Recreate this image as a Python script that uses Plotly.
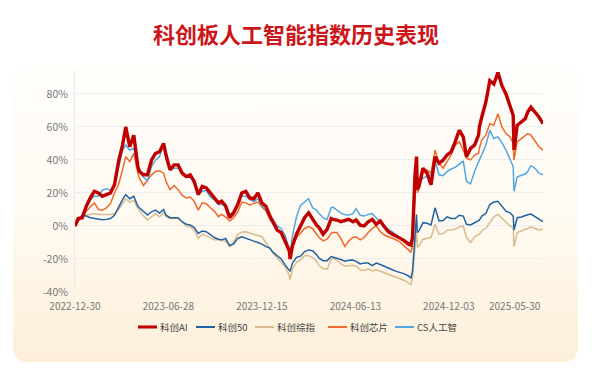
import base64
import plotly.graph_objects as go

# ---------------- data (cumulative return, %) ----------------
dates = [
    "2022-12-30", "2023-01-06", "2023-01-13", "2023-01-20", "2023-02-03", "2023-02-10", "2023-02-17", "2023-02-24",
    "2023-03-03", "2023-03-10", "2023-03-17", "2023-03-24", "2023-03-31", "2023-04-07", "2023-04-14", "2023-04-21",
    "2023-04-28", "2023-05-05", "2023-05-12", "2023-05-19", "2023-05-26", "2023-06-02", "2023-06-09", "2023-06-16",
    "2023-06-21", "2023-06-30", "2023-07-07", "2023-07-14", "2023-07-21", "2023-07-28", "2023-08-04", "2023-08-11",
    "2023-08-18", "2023-08-25", "2023-09-01", "2023-09-08", "2023-09-15", "2023-09-22", "2023-09-28", "2023-10-13",
    "2023-10-20", "2023-10-27", "2023-11-03", "2023-11-10", "2023-11-17", "2023-11-24", "2023-12-01", "2023-12-08",
    "2023-12-15", "2023-12-22", "2023-12-29",
    "2024-01-05", "2024-01-12", "2024-01-19", "2024-01-26", "2024-02-02", "2024-02-05", "2024-02-08", "2024-02-23",
    "2024-03-01", "2024-03-08", "2024-03-15", "2024-03-22", "2024-03-29", "2024-04-03", "2024-04-12", "2024-04-19",
    "2024-04-26", "2024-04-30", "2024-05-10", "2024-05-17", "2024-05-24", "2024-05-31", "2024-06-07", "2024-06-14",
    "2024-06-21", "2024-06-28", "2024-07-05", "2024-07-12", "2024-07-19", "2024-07-26", "2024-08-02", "2024-08-09",
    "2024-08-16", "2024-08-23", "2024-08-30", "2024-09-06", "2024-09-13", "2024-09-20", "2024-09-24", "2024-09-27",
    "2024-09-30", "2024-10-08", "2024-10-09", "2024-10-11", "2024-10-18", "2024-10-25", "2024-11-01", "2024-11-08",
    "2024-11-15", "2024-11-22", "2024-11-29", "2024-12-06", "2024-12-13", "2024-12-20", "2024-12-27",
    "2025-01-03", "2025-01-10", "2025-01-17", "2025-01-24", "2025-01-27", "2025-02-07", "2025-02-14", "2025-02-21",
    "2025-02-28", "2025-03-07", "2025-03-14", "2025-03-21", "2025-03-28", "2025-04-03", "2025-04-07", "2025-04-11",
    "2025-04-18", "2025-04-25", "2025-04-30", "2025-05-09", "2025-05-16", "2025-05-23", "2025-05-30",
]

kc_ai = [
    0, 4.5, 5, 12, 17, 21, 20, 18,
    19, 20, 25, 39, 49, 60, 48, 55,
    36, 33, 31, 31, 40, 44, 45, 50,
    43, 34, 37, 37, 32, 30, 31, 27,
    19, 24, 23, 20, 17, 14, 15, 12,
    5, 8, 13, 20, 21, 17, 16.5, 20,
    14, 12, 6,
    2, -2.5, -4, -9, -15, -20, -12, -5,
    0, 5, 8, 4, 0.5, -1, -5, -2,
    4.5, 4, 3.6, 2.6, 3.5, 4, 2.5, 3.6,
    0.5, 0, 2.5, 4, 1, 3, -0.5, -3.5,
    -5, -6, -7.5, -9, -11, -11.5, -7, 30,
    37, 42, 22, 24, 35, 32, 25, 42,
    38, 40, 43, 45, 51, 58, 54,
    42, 47, 49, 55, 60, 66, 75, 88,
    86, 93, 85, 80, 72, 67, 46, 61,
    63, 65, 69, 72, 69, 66, 62,
]

kc_50 = [
    0, 4, 6.5, 6, 5, 4.5, 4, 3.8,
    4, 4.5, 6.5, 11.5, 16, 19, 16.5, 18,
    12, 11, 8.5, 6.6, 8.6, 9.6, 7.8, 10,
    6.5, 5, 5, 5, 2.6, 1, 0.6, -1,
    -4.5, -3, -3.5, -5.4, -7, -8, -8.4, -7.6,
    -12, -10.8, -7.5, -6.5, -7.5, -8.4, -9.2, -10,
    -11, -12.5, -13.4,
    -16, -18.3, -20, -23.7, -26.5, -27.5, -22.5, -19,
    -18.3, -15.5, -14.5, -15, -17.5, -19.5, -21, -21,
    -18.5, -18.7, -19.5, -20.3, -21.3, -20.8, -20.6, -21.4,
    -23, -22.5, -22.5, -24, -22.5, -23.3, -24.5, -25.8,
    -26.5, -27.5, -28.3, -29, -30.3, -31.5, -27.5, -5,
    -1, 7, -4, -3, 2, 1.6, 0.6, 11,
    3, 3.3, 5.5, 4.5, 4.5, 6.5, 6,
    1, 0.6, 1.8, 3, 3.5, 6, 7.5, 13,
    14.5, 15, 12, 9, 8, 6, -2.4, 5,
    5.5, 6.5, 6.8, 7.2, 5.6, 4, 2.6,
]

kc_composite = [
    0, 4, 6, 6.5, 7, 7.5, 7, 7,
    7, 7, 7.5, 10, 13.5, 16.5, 14.5, 15.5,
    10.5, 9.5, 6, 3.6, 5.6, 7.5, 5.6, 8,
    5.6, 4.6, 4.6, 4.6, 2.6, 0, -0.4, -2.5,
    -7.5, -5, -6, -7.4, -8.4, -8.4, -8.8, -9.2,
    -12.3, -9.5, -5, -3.8, -3.5, -4.4, -5, -5.8,
    -6.5, -9.8, -13.8,
    -16.5, -19.5, -22, -25, -30, -32.5, -26, -22,
    -20.5, -18, -18, -19, -21.5, -24, -25.8, -26.3,
    -20, -19.7, -20.4, -23, -24.4, -24, -23.8, -24.4,
    -26.5, -27, -26, -27.2, -26.5, -27.4, -28.3, -29.5,
    -30.5, -31.4, -32.3, -33, -34.5, -35.5, -31, -16,
    -12, -2.4, -13, -12, -8, -7.4, -7, 1,
    -5, -4.6, -2.6, -2.4, -2, -0.5, 0,
    -7, -10, -6.5, -5.6, -5, -3, -1.4, 2,
    5.5, 7, 4.8, 2, 0, -1, -12.5, -4,
    -3, -2.4, -1.5, -0.5, -1.4, -2.4, -2,
]

kc_chip = [
    0, 3, 5.5, 9, 11.5, 14, 10, 9.5,
    11, 13.5, 20, 25, 34, 42, 39, 44,
    32, 29, 24.5, 27.5, 31, 33, 33.5, 32,
    27, 22, 24.5, 22, 18.7, 17, 17.5, 15,
    9.6, 14, 13.5, 11, 9, 5.6, 7, 5.5,
    3, 5, 8.5, 14.5, 14, 12.8, 13.5, 14.5,
    11.5, 9, 4,
    1, -2.5, -5, -10, -15, -19.5, -13, -7,
    -4, -1.5, -0.4, -1.5, -5, -7, -9, -8,
    -4.5, -4, -4, -7.5, -12.5, -9, -7, -6.5,
    -8.4, -7, -4, -1.5, 0, -3.4, -5.5, -6.4,
    -7.4, -8.5, -10, -12, -14.5, -16, -12, 18,
    26, 32, 20, 24, 32, 34, 32, 46,
    38, 35, 39, 43, 49, 51, 46,
    41, 40, 43, 44, 47, 52, 55, 62,
    61, 68, 60, 56, 54, 50, 40, 51,
    53, 54.5, 56, 55, 51.5, 48, 46,
]

cs_ai = [
    0, 3, 7.5, 11, 16, 18, 18, 21.7,
    22.5, 21.7, 24, 35, 46, 49, 46, 47,
    35, 33, 29.5, 27.5, 36, 40, 42, 50,
    40, 34, 35, 35, 33, 30.5, 30, 25.5,
    19, 21, 21.5, 17.6, 16, 13, 13, 13,
    7, 9, 13, 18, 18, 16, 14.7, 16.5,
    12.5, 9.5, 5.5,
    3.6, 0, -1.5, -6, -14, -17.5, -6, 5.6,
    12.5, 14.5, 16.5, 11, 9.6, 7.5, 5, 4,
    11, 11.5, 9.6, 7.8, 6.8, 6.6, 7.5, 10.5,
    6.5, 6, 7, 7.5, 4.8, 3, 0.5, -2,
    -3.5, -5.4, -7.5, -9, -9.8, -10.4, -6, 22,
    28, 34, 24, 26, 29, 30, 31, 39.5,
    31, 30.5, 33, 34.5, 35.5, 37.5, 39.5,
    27, 25.5, 33, 38.5, 40.5, 43, 49, 58,
    53, 54, 50.5, 46, 40.5, 36, 21, 29.7,
    30.7, 31.5, 33, 36.5, 35, 32, 31,
]

series_names = ["科创AI", "科创50", "科创综指", "科创芯片", "CS人工智"]
x_tick_dates = ["2022-12-30", "2023-06-28", "2023-12-15", "2024-06-13", "2024-12-03"]
last_tick_date = "2025-05-30"
y_ticks = [-40, -20, 0, 20, 40, 60, 80]

# exchange closing days (non-weekend) used to make the axis a trading-day axis
holidays = [
    "2023-01-02", "2023-01-23", "2023-01-24", "2023-01-25", "2023-01-26", "2023-01-27",
    "2023-04-05", "2023-05-01", "2023-05-02", "2023-05-03", "2023-06-22", "2023-06-23",
    "2023-09-29", "2023-10-02", "2023-10-03", "2023-10-04", "2023-10-05", "2023-10-06",
    "2024-01-01", "2024-02-09", "2024-02-12", "2024-02-13", "2024-02-14", "2024-02-15", "2024-02-16",
    "2024-04-04", "2024-04-05", "2024-05-01", "2024-05-02", "2024-05-03", "2024-06-10",
    "2024-09-16", "2024-09-17", "2024-10-01", "2024-10-02", "2024-10-03", "2024-10-04", "2024-10-07",
    "2025-01-01", "2025-01-28", "2025-01-29", "2025-01-30", "2025-01-31", "2025-02-03", "2025-02-04",
    "2025-04-04", "2025-05-01", "2025-05-02", "2025-05-05",
]

# ---------------- styling ----------------
FONT = "Noto Sans CJK SC, Noto Sans, sans-serif"
styles = {
    "科创AI": dict(color="#c00000", width=3.4),
    "科创50": dict(color="#1f63a3", width=1.5),
    "科创综指": dict(color="#d9bb8d", width=1.5),
    "科创芯片": dict(color="#ef6a2a", width=1.5),
    "CS人工智": dict(color="#52a6e2", width=1.5),
}
values = {
    "科创AI": kc_ai, "科创50": kc_50, "科创综指": kc_composite,
    "科创芯片": kc_chip, "CS人工智": cs_ai,
}
draw_order = ["科创综指", "科创50", "科创芯片", "CS人工智", "科创AI"]

fig = go.Figure()
for name in draw_order:
    st = styles[name]
    fig.add_trace(go.Scatter(
        x=dates, y=values[name], name=name, mode="lines",
        line=dict(color=st["color"], width=st["width"]),
        showlegend=False,
    ))

W, H = 592, 376
ml, mr, mt, mb = 75, 49, 70, 84
pw, ph = W - ml - mr, H - mt - mb


def px_x(px):
    return (px - ml) / pw


def px_y(py):
    return (H - mb - py) / ph


# compact legend row (short key line + label), as in the original
legend_y = px_y(327)
legend_x0 = [138, 196, 255, 328, 395]
key_len = 19
shapes = []
annotations = []
for name, x0 in zip(series_names, legend_x0):
    st = styles[name]
    shapes.append(dict(
        type="line", xref="paper", yref="paper",
        x0=px_x(x0), x1=px_x(x0 + key_len), y0=legend_y, y1=legend_y,
        line=dict(color=st["color"], width=3 if st["width"] > 2 else 2),
    ))
    annotations.append(dict(
        x=px_x(x0 + key_len + 1), y=legend_y, xref="paper", yref="paper",
        text=name, showarrow=False, xanchor="left", yanchor="middle",
        font=dict(family=FONT, size=9.5, color="#444"),
    ))

annotations.append(dict(
    x=last_tick_date, xref="x", y=0, yref="paper",
    text=last_tick_date, showarrow=False,
    xanchor="right", yanchor="middle", yshift=-13,
    font=dict(family=FONT, size=10, color="#777"),
))

# card background (soft vertical gradient with rounded corners)
svg = (
    '<svg xmlns="http://www.w3.org/2000/svg" width="592" height="376" viewBox="0 0 592 376" '
    'preserveAspectRatio="none"><defs><linearGradient id="g" x1="0" y1="0" x2="0" y2="1">'
    '<stop offset="0" stop-color="#fffefc"/><stop offset="0.5" stop-color="#fffaf2"/>'
    '<stop offset="1" stop-color="#fdefd9"/></linearGradient></defs>'
    '<rect x="13" y="63" width="565" height="299" rx="14" ry="14" fill="url(#g)"/></svg>'
)
src = "data:image/svg+xml;base64," + base64.b64encode(svg.encode()).decode()

fig.update_layout(
    width=W, height=H, autosize=False,
    margin=dict(l=ml, r=mr, t=mt, b=mb, pad=0),
    paper_bgcolor="white",
    plot_bgcolor="rgba(0,0,0,0)",
    font=dict(family=FONT, color="#777"),
    hovermode=False,
    showlegend=False,
    title=dict(
        text="<b>科创板人工智能指数历史表现</b>",
        x=0.5, xref="container", xanchor="center",
        y=1 - 35 / H, yref="container", yanchor="middle",
        font=dict(family=FONT, size=22, color="#cc1619"),
    ),
    images=[dict(
        source=src, xref="paper", yref="paper",
        x=-ml / pw, y=(H - mb) / ph, sizex=W / pw, sizey=H / ph,
        xanchor="left", yanchor="top", sizing="stretch", layer="below",
    )],
    shapes=shapes,
    annotations=annotations,
    xaxis=dict(
        type="date", automargin=False,
        range=[dates[0], last_tick_date],
        rangebreaks=[dict(bounds=["sat", "mon"]), dict(values=holidays)],
        tickmode="array", tickvals=x_tick_dates, ticktext=x_tick_dates,
        showgrid=False, zeroline=False, showline=False,
        ticks="outside", ticklen=5, tickcolor="rgba(0,0,0,0)",
        tickfont=dict(family=FONT, size=10, color="#777"),
    ),
    yaxis=dict(
        automargin=False,
        range=[-40, 94.5],
        tickmode="array", tickvals=y_ticks, ticktext=[f"{v}%" for v in y_ticks],
        showgrid=True, gridcolor="#ededed", gridwidth=1,
        zeroline=True, zerolinecolor="#ededed", zerolinewidth=1,
        showline=True, linecolor="#e9e9e9", linewidth=1,
        ticks="outside", ticklen=4, tickcolor="rgba(0,0,0,0)",
        tickfont=dict(family=FONT, size=10.5, color="#777"),
    ),
)

fig.write_html(
    "out.html",
    config={"displayModeBar": False, "staticPlot": True},
    post_script="document.body.style.margin='0px';document.body.style.overflow='hidden';",
)
